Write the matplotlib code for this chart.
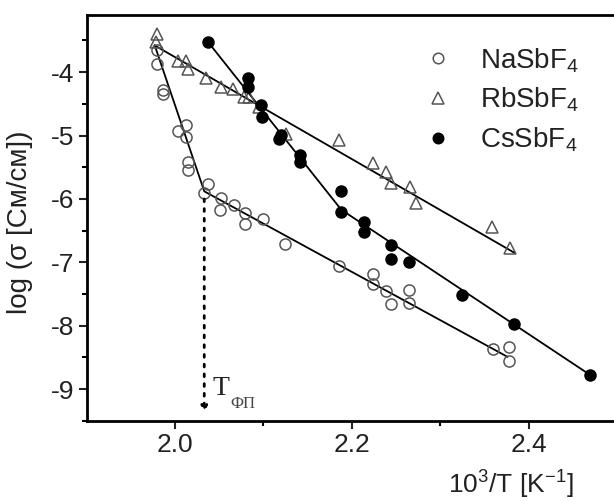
import numpy as np
import matplotlib
matplotlib.use('Agg')
import matplotlib.pyplot as plt

plt.rcParams['font.family'] = ['Liberation Sans', 'DejaVu Sans']
plt.rcParams['mathtext.fontset'] = 'custom'
plt.rcParams['mathtext.rm'] = 'Liberation Sans'
plt.rcParams['mathtext.it'] = 'Liberation Sans'
plt.rcParams['axes.unicode_minus'] = False

# data: x = 10^3/T, y = log(sigma)
na_x = [1.979, 1.979, 1.986, 1.986, 2.003, 2.012, 2.012, 2.015, 2.015, 2.037, 2.033,
        2.052, 2.051, 2.067, 2.079, 2.079, 2.099, 2.124, 2.185, 2.224, 2.224,
        2.239, 2.244, 2.265, 2.265, 2.360, 2.378, 2.378]
na_y = [-3.65, -3.87, -4.28, -4.35, -4.93, -4.84, -5.02, -5.41, -5.55, -5.76, -5.91,
        -5.98, -6.17, -6.10, -6.22, -6.40, -6.32, -6.71, -7.06, -7.19, -7.34,
        -7.45, -7.66, -7.43, -7.64, -8.36, -8.34, -8.55]

rb_x = [1.979, 1.978, 2.003, 2.012, 2.015, 2.035, 2.052, 2.065, 2.078, 2.084,
        2.095, 2.125, 2.185, 2.224, 2.239, 2.244, 2.266, 2.273, 2.359, 2.379]
rb_y = [-3.40, -3.52, -3.82, -3.82, -3.95, -4.09, -4.24, -4.26, -4.39, -4.39,
        -4.55, -4.97, -5.07, -5.44, -5.57, -5.75, -5.81, -6.06, -6.45, -6.77]

cs_x = [2.037, 2.082, 2.082, 2.097, 2.098, 2.120, 2.118, 2.141, 2.141, 2.188,
        2.188, 2.214, 2.214, 2.244, 2.244, 2.265, 2.325, 2.384, 2.470]
cs_y = [-3.52, -4.10, -4.24, -4.52, -4.71, -4.99, -5.05, -5.31, -5.41, -5.87,
        -6.20, -6.36, -6.52, -6.73, -6.94, -6.99, -7.52, -7.97, -8.78]

# fitted lines (break points)
na_fit_x = [1.977, 2.033, 2.376]
na_fit_y = [-3.58, -5.88, -8.49]
rb_fit_x = [1.977, 2.384]
rb_fit_y = [-3.58, -6.85]
cs_fit_x = [2.037, 2.188, 2.470]
cs_fit_y = [-3.52, -6.17, -8.78]

t_phase = 2.033
t_phase_top = -6.0
t_phase_bottom = -9.37

fig = plt.figure(figsize=(6.14, 5.01), dpi=100)
ax = fig.add_axes([0.1412, 0.160, 0.8637, 0.810])

grey = '#555555'
ax.plot(na_fit_x, na_fit_y, color='black', lw=1.3, zorder=2)
ax.plot(rb_fit_x, rb_fit_y, color='black', lw=1.3, zorder=2)
ax.plot(cs_fit_x, cs_fit_y, color='black', lw=1.3, zorder=2)

ax.plot(na_x, na_y, 'o', ms=8, mfc='none', mec=grey, mew=1.1, ls='none',
        label='NaSbF$_4$', zorder=3)
ax.plot(rb_x, rb_y, '^', ms=9, mfc='none', mec=grey, mew=1.1, ls='none',
        label='RbSbF$_4$', zorder=3)
ax.plot(cs_x, cs_y, 'o', ms=8, color='black', ls='none',
        label='CsSbF$_4$', zorder=4)

# phase transition marker
ax.annotate('', xy=(t_phase, t_phase_bottom), xytext=(t_phase, t_phase_top),
            arrowprops=dict(arrowstyle='-|>', color='black', lw=2.0,
                            linestyle=(0, (1, 2.5)), mutation_scale=9,
                            shrinkA=0, shrinkB=0))
ax.text(t_phase + 0.009, -9.1, 'T', family='Liberation Serif', fontsize=20,
        color='#222222', va='baseline')
ax.text(t_phase + 0.029, -9.3, 'ФП', family='Liberation Serif', fontsize=12,
        color='#444444', va='baseline')

ax.set_xlim(1.9, 2.5)
ax.set_ylim(-9.5, -3.1)
ax.set_xticks([2.0, 2.2, 2.4])
ax.set_xticks([2.1, 2.3], minor=True)
ax.set_yticks([-9, -8, -7, -6, -5, -4])
ax.set_yticks(np.arange(-9.5, -3.2, 1.0), minor=True)

ax.tick_params(which='major', direction='out', length=6, width=1.5,
               labelsize=19, colors='#222222', pad=3)
ax.tick_params(which='minor', direction='out', length=3.5, width=1.5)
for s in ax.spines.values():
    s.set_linewidth(2)
ax.spines['right'].set_visible(False)

ax.set_xlabel('10$^3$/T [K$^{-1}$]', fontsize=19, color='#222222')
ax.xaxis.set_label_coords(0.80, -0.118)
ax.set_ylabel('log (σ [См/см])', fontsize=20, color='#222222')
ax.yaxis.set_label_coords(-0.102, 0.49)

leg = ax.legend(loc='upper right', bbox_to_anchor=(0.975, 0.985), frameon=False,
                fontsize=20, handletextpad=1.0, labelspacing=0.4,
                handlelength=1.0, markerscale=0.95)
for t in leg.get_texts():
    t.set_color('#222222')

fig.savefig('out.png', dpi=100)
